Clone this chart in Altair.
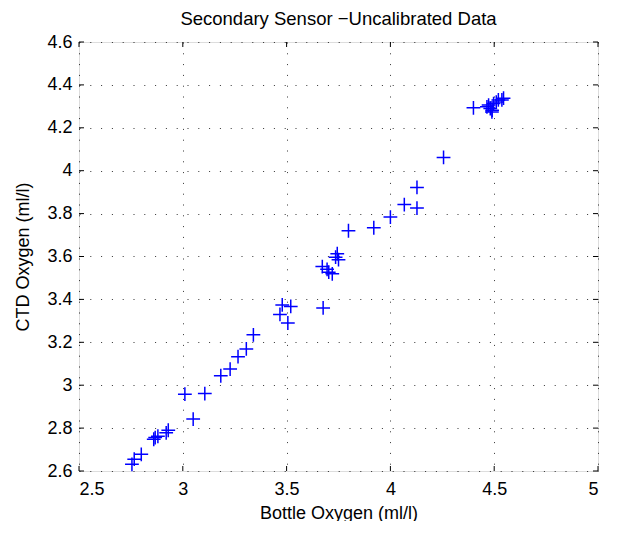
import altair as alt
import pandas as pd

bottle = [2.755, 2.766, 2.80, 2.86, 2.867, 2.88, 2.92, 2.93, 3.01, 3.05, 3.106,
          3.183, 3.228, 3.266, 3.306, 3.34, 3.468, 3.479, 3.506, 3.52, 3.676,
          3.672, 3.695, 3.703, 3.72, 3.736, 3.744, 3.75, 3.798, 3.92, 4.0,
          4.067, 4.128, 4.128, 4.256, 4.40, 4.465, 4.473, 4.481, 4.489, 4.49,
          4.497, 4.51, 4.52, 4.537, 4.545]
ctd = [2.631, 2.655, 2.678, 2.748, 2.756, 2.762, 2.778, 2.790, 2.958, 2.842, 2.961,
       3.044, 3.075, 3.133, 3.169, 3.235, 3.330, 3.374, 3.290, 3.367, 3.360,
       3.553, 3.540, 3.527, 3.519, 3.597, 3.613, 3.585, 3.720, 3.734, 3.784,
       3.842, 3.826, 3.922, 4.062, 4.293, 4.298, 4.306, 4.290, 4.274, 4.282,
       4.313, 4.320, 4.330, 4.330, 4.338]

x_ticks = [2.5, 3, 3.5, 4, 4.5, 5]
y_ticks = [2.6, 2.8, 3, 3.2, 3.4, 3.6, 3.8, 4, 4.2, 4.4, 4.6]

df = pd.DataFrame({"bottle": bottle, "ctd": ctd})
xt = pd.DataFrame({"v": x_ticks})
yt = pd.DataFrame({"v": y_ticks})

W, H = 519, 429
FONT = "Liberation Sans"

xscale = alt.Scale(domain=[2.5, 5], nice=False, zero=False)
yscale = alt.Scale(domain=[2.6, 4.6], nice=False, zero=False)

grid_common = dict(grid=True, gridColor="#000000", gridOpacity=0.8,
                   gridDash=[1, 9.8], gridWidth=1, ticks=False, tickSize=0,
                   domain=False, labelFont=FONT, titleFont=FONT,
                   labelFontSize=18, titleFontSize=18, titleFontWeight="normal",
                   labelColor="#000000", titleColor="#000000", format="~g")

points = alt.Chart(df).mark_point(
    shape="M-1,0L1,0M0,-1L0,1", size=190, filled=False,
    stroke="#0000ff", strokeWidth=1.5, opacity=1
).encode(
    x=alt.X("bottle:Q", scale=xscale, title="Bottle Oxygen (ml/l)",
            axis=alt.Axis(values=x_ticks, labelPadding=9, titlePadding=6,
                          **grid_common)),
    y=alt.Y("ctd:Q", scale=yscale, title="CTD Oxygen (ml/l)",
            axis=alt.Axis(values=y_ticks, labelPadding=7, titlePadding=14,
                          **grid_common)),
)

tick_style = dict(color="#000000", strokeWidth=1)
xb = alt.Chart(xt).mark_rule(**tick_style).encode(
    x=alt.X("v:Q", scale=xscale), y=alt.value(H), y2=alt.value(H - 5))
xtop = alt.Chart(xt).mark_rule(**tick_style).encode(
    x=alt.X("v:Q", scale=xscale), y=alt.value(0), y2=alt.value(5))
yl = alt.Chart(yt).mark_rule(**tick_style).encode(
    y=alt.Y("v:Q", scale=yscale), x=alt.value(0), x2=alt.value(5))
yr = alt.Chart(yt).mark_rule(**tick_style).encode(
    y=alt.Y("v:Q", scale=yscale), x=alt.value(W), x2=alt.value(W - 5))

chart = alt.layer(xb, xtop, yl, yr, points).properties(
    width=W, height=H,
    title=alt.Title("Secondary Sensor \u2212Uncalibrated Data", font=FONT,
                    fontSize=18.5, fontWeight="normal", color="#000000", offset=5),
    autosize=alt.AutoSizeParams(type="none"),
    padding={"left": 71, "top": 34, "right": 15, "bottom": 50},
).configure_view(stroke="#000000", strokeWidth=1).configure(background="white")

chart.save("out.html", embed_options={"renderer": "svg", "actions": False})
